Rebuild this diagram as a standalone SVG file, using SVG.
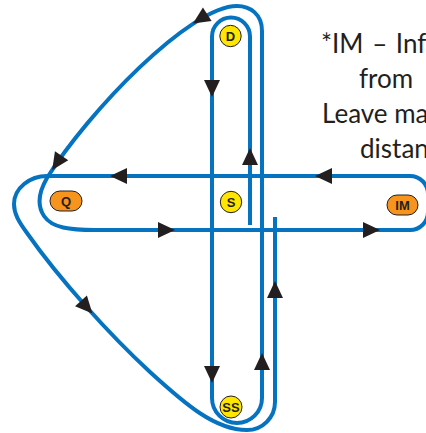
<svg xmlns="http://www.w3.org/2000/svg" width="426" height="433" viewBox="0 0 426 433">
<defs>
<style>
.flow{fill:none;stroke:#0673c1;stroke-width:4;stroke-linejoin:round}
.ah{fill:#231f20}
.yel{fill:#ffe500;stroke:#231f20;stroke-width:1}
.org{fill:#f7941d;stroke:#231f20;stroke-width:1}
.lbl{font-family:"Liberation Sans",Arial,sans-serif;font-weight:bold;font-size:13px;fill:#231f20;text-anchor:middle}
.note{font-family:Lato,"Open Sans",sans-serif;font-size:26px;fill:#231f20}
</style>
<path id="arr" d="M0,0 L-17,-8 L-17,8 Z"/>
</defs>
<rect width="426" height="433" fill="#ffffff"/>
<g id="connectors">
<path class="flow" d="M250,225 L250,36.5 A19,19 0 0 0 212,36.5 L212,398 A25,25 0 0 0 262,398 L262,31 C262,14 250,6 237,6 C190,6 88.3,111.7 47,178 C40,190 36,204 44,216 C52,228 70,230 95,230 L410,230 A18,18 0 0 0 428,212 L428,194 A18,18 0 0 0 410,176 L47,176 C30,176 14,188 14,204 C14,214 19,222 27,233 C60,280 110,335 150,372 C185,404 215,430 247,430 A28,28 0 0 0 275,402 L275,217"/>
<use href="#arr" class="ah" transform="translate(212,97) rotate(90)"/>
<use href="#arr" class="ah" transform="translate(212,383) rotate(90)"/>
<use href="#arr" class="ah" transform="translate(250,148) rotate(-90)"/>
<use href="#arr" class="ah" transform="translate(262,353) rotate(-90)"/>
<use href="#arr" class="ah" transform="translate(275,281) rotate(-90)"/>
<use href="#arr" class="ah" transform="translate(315,176) rotate(180)"/>
<use href="#arr" class="ah" transform="translate(110,176) rotate(180)"/>
<use href="#arr" class="ah" transform="translate(175,230)"/>
<use href="#arr" class="ah" transform="translate(380,230)"/>
<use href="#arr" class="ah" transform="translate(193,23.5) rotate(147)"/>
<use href="#arr" class="ah" transform="translate(52.2,169.9) rotate(123.6)"/>
<use href="#arr" class="ah" transform="translate(92.4,313.4) rotate(47.8)"/>
</g>
<g id="node-D">
<circle class="yel" cx="230.5" cy="36" r="10.7"/>
<text class="lbl" x="230.5" y="40.6">D</text>
</g>
<g id="node-S">
<circle class="yel" cx="231" cy="202" r="10.7"/>
<text class="lbl" x="231" y="206.6">S</text>
</g>
<g id="node-SS">
<circle class="yel" cx="231" cy="407" r="11"/>
<text class="lbl" x="231" y="411.6">SS</text>
</g>
<g id="node-Q">
<rect class="org" x="50" y="191" width="32" height="20" rx="10"/>
<text class="lbl" x="66" y="205.6">Q</text>
</g>
<g id="node-IM">
<rect class="org" x="387" y="195" width="31" height="20" rx="10"/>
<text class="lbl" x="402.5" y="209.6">IM</text>
</g>
<g id="note">
<text class="note" x="321" y="52.5" word-spacing="2">*IM – Inf</text>
<text class="note" x="359" y="87.5">from</text>
<text class="note" x="322" y="122.5">Leave ma</text>
<text class="note" x="360" y="157.5">distan</text>
</g>
</svg>
